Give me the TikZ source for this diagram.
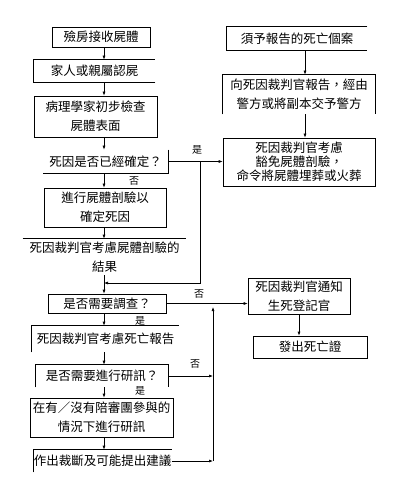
\documentclass[tikz,border=0pt]{standalone}
\usepackage{fontspec}
\newfontfamily\cjk{Noto Sans CJK TC}
\usetikzlibrary{arrows.meta,positioning,calc}
\tikzset{>={Latex[length=4pt,width=3pt]}}
\tikzset{
  box/.style={draw,line width=0.6pt,inner sep=0pt,align=center,font=\cjk\fontsize{12.5}{19}\selectfont},
  nobox/.style={box,draw=none},
  side/.style={line width=0.6pt},
  arr/.style={->,line width=0.6pt},
  yesno/.style={font=\cjk\fontsize{10}{11}\selectfont,inner sep=0pt},
}

\begin{document}
\begin{tikzpicture}[x=1pt,y=-1pt]
    \useasboundingbox (0,0) rectangle (400,486);
    % left column
    \node[box,minimum width=98,minimum height=20] (B1) at (101,37) {殮房接收屍體};
    \node[nobox,minimum width=121,minimum height=22] (B2) at (94.5,71) {家人或親屬認屍};
    \node[box,minimum width=123,minimum height=41] (B3) at (95.5,116.5) {病理學家初步檢查\\屍體表面};
    \node[nobox,minimum width=125,minimum height=23] (B4) at (105.5,161.5) {死因是否已經確定？};
    \node[box,minimum width=122,minimum height=39] (B5) at (105,207.5) {進行屍體剖驗以\\確定死因};
    \node[nobox,minimum width=163,minimum height=36] (B6) at (104.5,257) {死因裁判官考慮屍體剖驗的\\結果};
    \node[box,minimum width=118,minimum height=19] (B7) at (107,303.5) {是否需要調查？};
    \node[nobox,minimum width=147,minimum height=26] (B8) at (105.5,339) {死因裁判官考慮死亡報告};
    \node[nobox,minimum width=132,minimum height=22] (B9) at (102,376) {是否需要進行研訊？};
    \node[box,minimum width=143,minimum height=39] (B10) at (101.5,417.5) {在有／沒有陪審團參與的\\情況下進行研訊};
    \node[nobox,minimum width=135,minimum height=22] (B11) at (102.5,461) {作出裁斷及可能提出建議};
    % right column
    \node[nobox,minimum width=140,minimum height=23] (R1) at (297,38.5) {須予報告的死亡個案};
    \node[nobox,minimum width=152,minimum height=39] (R2) at (299,94.5) {向死因裁判官報告，經由\\警方或將副本交予警方};
    \node[box,minimum width=152,minimum height=48,font=\cjk\fontsize{12.5}{14}\selectfont] (R3) at (299,162) {死因裁判官考慮\\豁免屍體剖驗，\\命令將屍體埋葬或火葬};
    \node[box,minimum width=102,minimum height=36] (R4) at (299,296) {死因裁判官通知\\生死登記官};
    \node[box,minimum width=114,minimum height=22] (R5) at (310,347) {發出死亡證};

    % open sides of the boxes
    \draw[side] (B2.south east) -- (B2.south west) -- (B2.north west) -- (B2.north east);
    \draw[side] (B4.north east) -- (B4.south east) -- (B4.south west);
    \draw[side] (B6.north west) -- (B6.north east);
    \draw[side] (B8.south west) -- (B8.north west) -- (B8.north east);
    \draw[side] (B9.south west) -- (B9.north west) -- (B9.north east) -- (B9.south east);
    \draw[side] (B11.south west) -- (B11.north west) -- (B11.north east);
    \draw[side] (R1.north east) -- (R1.north west) -- (R1.south west) -- (R1.south east);
    \draw[side] (R2.south west) -- (R2.north west) -- (R2.north east) -- (R2.south east);

    % trunks
    \coordinate (T) at (104,0);
    \coordinate (S) at (305,0);
    \coordinate (X1) at (200,0);
    \coordinate (M1) at (104,283);
    \coordinate (V1) at (213,461);
    \coordinate (V2) at (213,307);

    \draw[arr] (T |- B1.south) -- (T |- B2.north);
    \draw[arr] (T |- B2.south) -- (T |- B3.north);
    \draw[arr] (T |- B3.south) -- (T |- B4.north);
    \draw[arr] (T |- B4.south) -- (T |- B5.north);
    \draw[arr] (T |- B5.south) -- (T |- B6.north);
    \draw[arr] (T |- B6.south) -- (T |- B7.north);
    \draw[arr] (T |- B7.south) -- (T |- B8.north);
    \draw[arr] (T |- B8.south) -- (T |- B9.north);
    \draw[arr] (T |- B9.south) -- (T |- B10.north);
    \draw[arr] (T |- B10.south) -- (T |- B11.north);
    \draw[arr] (S |- R1.south) -- (S |- R2.north);
    \draw[arr] (S |- R2.south) -- (S |- R3.north);
    \draw[arr] (R4.south) -- (R4.south |- R5.north);

    % branches
    \draw[arr] (B4.east) -- (B4.east -| R3.west);
    \draw[arr] (X1 |- B4.east) |- (M1);
    \draw[arr] (B7.east) -- (B7.east -| R4.west);
    \draw[arr] (B9.east) -- (B9.east -| V1);
    \draw[arr] (B11.east) -- (V1);
    \draw[arr] (V1) -- (V2);

    \node[yesno] (L1) at (197,150) {是};
    \node[yesno] (L2) at (134,181) {否};
    \node[yesno] (L3) at (199,294) {否};
    \node[yesno] (L4) at (140,321) {是};
    \node[yesno] (L5) at (195,364) {否};
    \node[yesno] (L6) at (140,391) {是};
\end{tikzpicture}
\end{document}
